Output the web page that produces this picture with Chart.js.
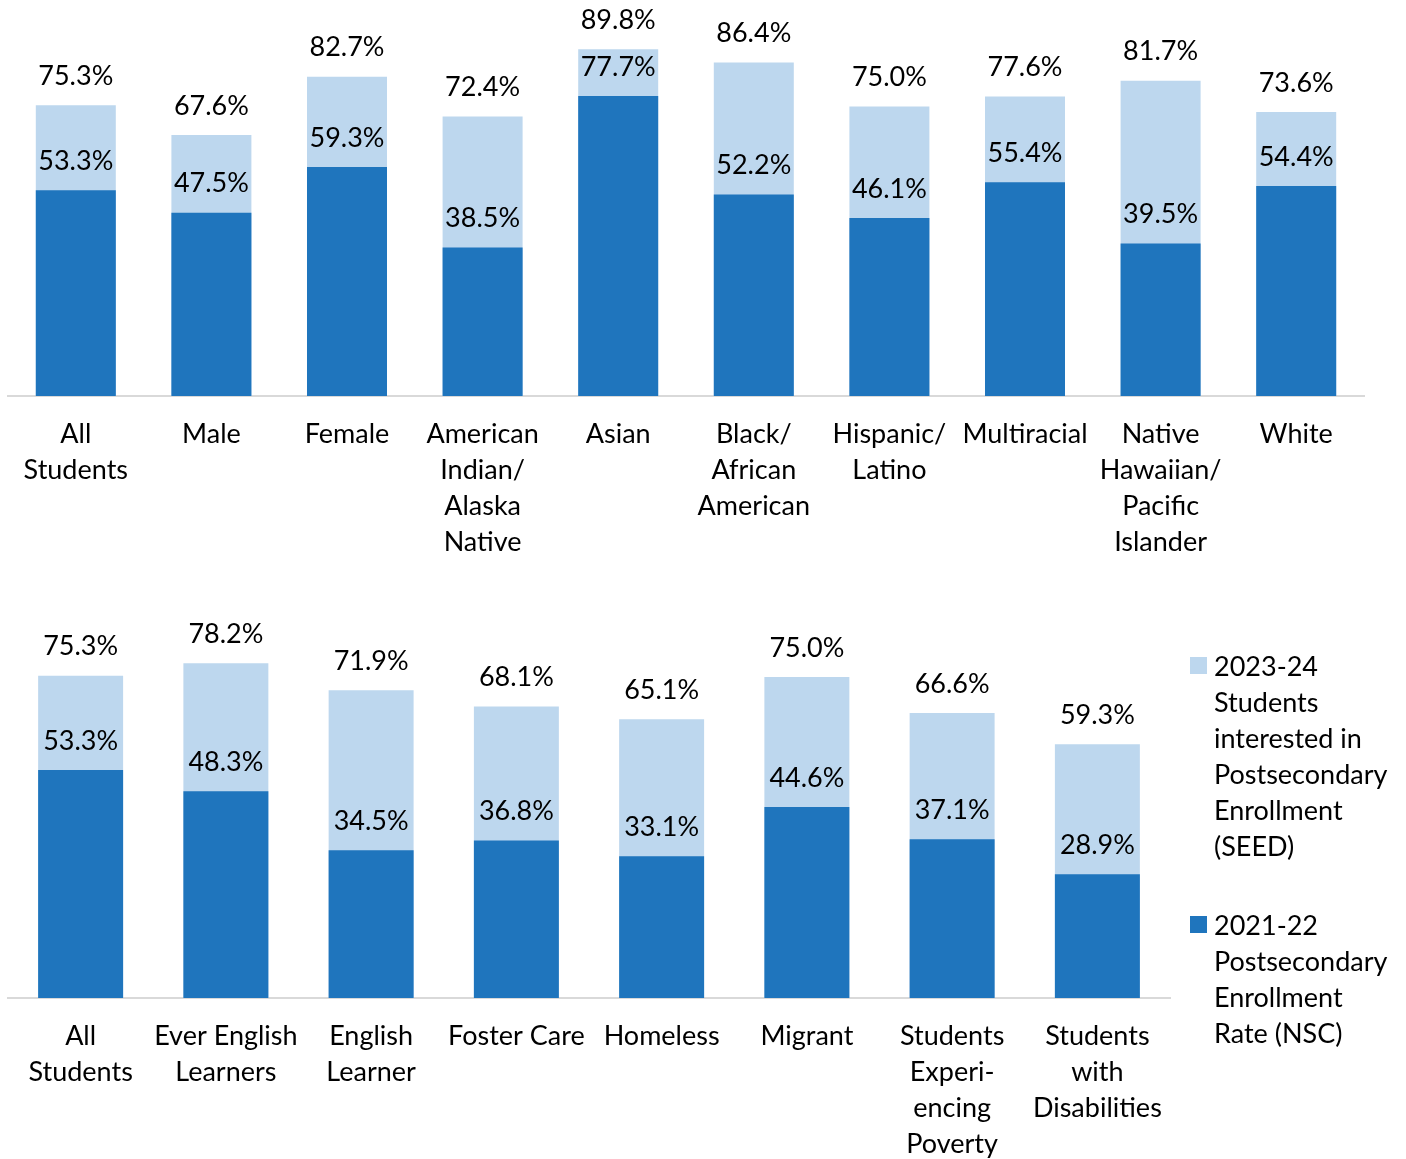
<!doctype html>
<html lang="en">

<head>
    <meta charset="utf-8">
    <title>Postsecondary enrollment by student group</title>
    <script src="https://cdn.jsdelivr.net/npm/chart.js@4.4.1/dist/chart.umd.min.js"></script>
    <style>
        body { margin: 0; background: #fff; font-family: Lato, sans-serif; }
        #wrap { position: relative; width: 1406px; height: 1159px; }
        #top { position: absolute; left: 0; top: 0; }
        #bottom { position: absolute; left: 0; top: 560px; }
        #legend { position: absolute; left: 1190px; top: 648px; font-size: 27px; line-height: 36px; color: #000; }
        .item { position: relative; padding-left: 24px; margin-bottom: 43px; white-space: nowrap; }
        .box { position: absolute; left: 0; top: 9px; width: 17px; height: 17px; }
    </style>
</head>

<body>
    <div id="wrap">
        <canvas id="top" width="1406" height="560"></canvas>
        <canvas id="bottom" width="1406" height="599"></canvas>
        <div id="legend"></div>
    </div>
</body>
<script>
    // top panel: race / gender
    let topLabels = [["All", "Students"], "Male", "Female", ["American", "Indian/", "Alaska", "Native"], "Asian",
        ["Black/", "African", "American"], ["Hispanic/", "Latino"], "Multiracial",
        ["Native", "Hawaiian/", "Pacific", "Islander"], "White"];
    let topSeed = [75.3, 67.6, 82.7, 72.4, 89.8, 86.4, 75.0, 77.6, 81.7, 73.6];
    let topNsc = [53.3, 47.5, 59.3, 38.5, 77.7, 52.2, 46.1, 55.4, 39.5, 54.4];

    // bottom panel: program groups
    let botLabels = [["All", "Students"], ["Ever English", "Learners"], ["English", "Learner"], "Foster Care", "Homeless",
        "Migrant", ["Students", "Experi-", "encing", "Poverty"], ["Students", "with", "Disabilities"]];
    let botSeed = [75.3, 78.2, 71.9, 68.1, 65.1, 75.0, 66.6, 59.3];
    let botNsc = [53.3, 48.3, 34.5, 36.8, 33.1, 44.6, 37.1, 28.9];

    let seedName = ["2023-24", "Students", "interested in", "Postsecondary", "Enrollment", "(SEED)"];
    let nscName = ["2021-22", "Postsecondary", "Enrollment", "Rate (NSC)"];

    const lightBlue = "#BDD7EE";
    const darkBlue = "#1F75BD";
    const fontFam = "Lato, 'Open Sans', sans-serif";

    // writes the value above each bar
    let valueLabels = {
        id: "valueLabels",
        afterDatasetsDraw(chart) {
            let ctx = chart.ctx;
            ctx.save();
            ctx.font = "27px " + fontFam;
            ctx.fillStyle = "#000";
            ctx.textAlign = "center";
            ctx.textBaseline = "middle";
            chart.data.datasets.forEach((ds, i) => {
                chart.getDatasetMeta(i).data.forEach((bar, j) => {
                    ctx.fillText(ds.data[j].toFixed(1) + "%", bar.x, bar.y - 29);
                });
            });
            ctx.restore();
        }
    };

    let makeChart = (id, labels, seed, nsc, barPct, padRight, axisH) => {
        return new Chart(document.getElementById(id), {
            type: "bar",
            data: {
                labels: labels,
                datasets: [
                    { label: seedName.join(" "), data: seed, backgroundColor: lightBlue, order: 1 },
                    { label: nscName.join(" "), data: nsc, backgroundColor: darkBlue, order: 0 }
                ]
            },
            options: {
                responsive: false,
                animation: false,
                layout: { padding: { left: 8, right: padRight, top: 10, bottom: 0 } },
                datasets: { bar: { categoryPercentage: 1, barPercentage: barPct } },
                plugins: { legend: { display: false }, tooltip: { enabled: false } },
                scales: {
                    x: {
                        stacked: true,
                        grid: { display: false, drawTicks: false },
                        border: { display: true, color: "#D9D9D9", width: 2 },
                        ticks: {
                            color: "#000", maxRotation: 0, autoSkip: false, padding: 20,
                            font: { family: fontFam, size: 27, lineHeight: "36px" }
                        },
                        afterFit: (scale) => { scale.height = axisH; }
                    },
                    y: { stacked: false, display: false, min: 0, max: 100 }
                }
            },
            plugins: [valueLabels]
        });
    };

    makeChart("top", topLabels, topSeed, topNsc, 0.59, 42, 164);
    makeChart("bottom", botLabels, botSeed, botNsc, 0.585, 236, 161);

    // legend with wrapped names
    let legend = document.getElementById("legend");
    [[lightBlue, seedName], [darkBlue, nscName]].forEach(([color, lines]) => {
        let item = document.createElement("div");
        item.className = "item";
        let box = document.createElement("span");
        box.className = "box";
        box.style.background = color;
        item.appendChild(box);
        lines.forEach(t => {
            let line = document.createElement("div");
            line.textContent = t;
            item.appendChild(line);
        });
        legend.appendChild(item);
    });
</script>

</html>
